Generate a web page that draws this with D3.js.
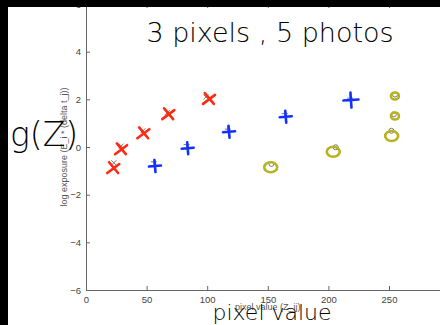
<!DOCTYPE html>
<html>
<head>
<meta charset="utf-8">
<script src="https://cdn.jsdelivr.net/npm/d3@7"></script>
<style>
  body { margin: 0; background: #000; }
  svg { display: block; }
</style>
</head>
<body>
<div id="chart"></div>
<script>

// axis ticks (300 falls outside the screenshot)
var xTicks = [0, 50, 100, 150, 200, 250];
var yTicks = [-6, -4, -2, 0, 2, 4, 6];

// original samples Z (pixel value) vs log exposure, one array per pixel
var z1 = [23, 29, 47, 67, 99],     g1 = [-0.66, 0.04, 0.68, 1.44, 2.10];
var z2 = [56, 83, 117, 164, 218],  g2 = [-0.62, 0.10, 0.75, 1.40, 2.05];
var z3 = [153, 206, 252, 254, 255], g3 = [-0.71, -0.01, 0.68, 1.37, 2.20];

// hand drawn marks over the samples
var hz1 = [22.5, 28.9, 47.3, 67.9, 101.5], hg1 = [-0.89, -0.10, 0.57, 1.37, 2.01];
var hz2 = [56.9, 83.9, 118, 164.8, 218.6], hg2 = [-0.80, -0.05, 0.64, 1.27, 1.97];
var hz3 = [152.4, 204, 252.2, 254.9, 254.9], hg3 = [-0.85, -0.20, 0.46, 1.30, 2.14];

var W = 440, H = 325;

var svg = d3.select("#chart").append("svg")
    .attr("width", W)
    .attr("height", H);

// white figure area
svg.append("rect")
  .attr("x", 0).attr("y", 0).attr("width", W).attr("height", H)
  .attr("fill", "#fff");

var x = d3.scaleLinear().domain([0, 300]).range([86, 449.6]);
var y = d3.scaleLinear().domain([-6, 6]).range([290, 4]);

var axisCol = "#666";

// axes (matlab style, ticks pointing in)
var gx = svg.append("g")
  .attr("transform", "translate(0," + y(-6) + ")")
  .call(d3.axisBottom(x).tickValues(xTicks).tickSizeInner(-4).tickSizeOuter(0).tickPadding(6));
var gxTop = svg.append("g")
  .attr("transform", "translate(0," + y(6) + ")")
  .call(d3.axisTop(x).tickValues(xTicks).tickSizeInner(-4).tickSizeOuter(0).tickFormat(""));
var gy = svg.append("g")
  .attr("transform", "translate(" + x(0) + ",0)")
  .call(d3.axisLeft(y).tickValues(yTicks).tickSizeInner(-4).tickSizeOuter(0).tickPadding(5)
    .tickFormat(function(d) { return d < 0 ? "\u2212" + (-d) : d; }));

[gx, gxTop, gy].forEach(function(g) {
  g.select(".domain").attr("stroke", axisCol);
  g.selectAll(".tick line").attr("stroke", axisCol);
  g.selectAll(".tick text")
    .attr("fill", "#444")
    .style("font-family", "Liberation Sans, Arial, sans-serif")
    .style("font-size", "9.5px");
});

// axis labels
svg.append("text")
  .attr("transform", "translate(67," + y(0) + ") rotate(-90)")
  .attr("text-anchor", "middle")
  .attr("fill", "#555")
  .style("font-family", "Liberation Sans, Arial, sans-serif")
  .style("font-size", "9px")
  .text("log exposure (E_i * (delta t_j))");

svg.append("text")
  .attr("x", x(150)).attr("y", 310)
  .attr("text-anchor", "middle")
  .attr("fill", "#555")
  .style("font-family", "Liberation Sans, Arial, sans-serif")
  .style("font-size", "9px")
  .text("pixel value (Z_ij)");

// gray sample markers
var gray = "#777";
function pairs(a, b) { return a.map(function(v, i) { return [v, b[i]]; }); }

svg.append("g").selectAll("path").data(pairs(z1, g1)).join("path")
  .attr("d", function(d) {
    var cx = x(d[0]), cy = y(d[1]), s = 2.5;
    return "M" + (cx - s) + "," + (cy - s) + "L" + (cx + s) + "," + (cy + s) +
           "M" + (cx - s) + "," + (cy + s) + "L" + (cx + s) + "," + (cy - s);
  })
  .attr("stroke", gray).attr("stroke-width", 1).attr("fill", "none");

svg.append("g").selectAll("path").data(pairs(z2, g2)).join("path")
  .attr("d", function(d) {
    var cx = x(d[0]), cy = y(d[1]), s = 3;
    return "M" + (cx - s) + "," + cy + "L" + (cx + s) + "," + cy +
           "M" + cx + "," + (cy - s) + "L" + cx + "," + (cy + s);
  })
  .attr("stroke", gray).attr("stroke-width", 1).attr("fill", "none");

svg.append("g").selectAll("circle").data(pairs(z3, g3)).join("circle")
  .attr("cx", function(d) { return x(d[0]); })
  .attr("cy", function(d) { return y(d[1]); })
  .attr("r", 2.5)
  .attr("stroke", gray).attr("stroke-width", 1).attr("fill", "none");

// hand drawn marks
var red = "#ff2a12", blue = "#1230ff", olive = "#b8b21e";

svg.append("g").selectAll("path").data(pairs(hz1, hg1)).join("path")
  .attr("d", function(d) {
    var cx = x(d[0]), cy = y(d[1]), s = 6;
    return "M" + (cx - s) + "," + (cy + s * 0.8) + "L" + (cx + s) + "," + (cy - s * 0.7) +
           "M" + (cx - s * 0.7) + "," + (cy - s) + "L" + (cx + s * 0.8) + "," + (cy + s * 0.8);
  })
  .attr("stroke", red).attr("stroke-width", 2.6).attr("stroke-linecap", "round").attr("fill", "none");

svg.append("g").selectAll("path").data(pairs(hz2, hg2)).join("path")
  .attr("d", function(d, i) {
    var cx = x(d[0]), cy = y(d[1]), s = i == 4 ? 7.5 : 6;
    return "M" + (cx - s) + "," + (cy + 0.5) + "L" + (cx + s) + "," + (cy - 0.5) +
           "M" + (cx - 0.5) + "," + (cy - s) + "L" + (cx + 0.5) + "," + (cy + s);
  })
  .attr("stroke", blue).attr("stroke-width", 2.6).attr("stroke-linecap", "round").attr("fill", "none");

svg.append("g").selectAll("ellipse").data(pairs(hz3, hg3)).join("ellipse")
  .attr("cx", function(d) { return x(d[0]); })
  .attr("cy", function(d) { return y(d[1]); })
  .attr("rx", function(d, i) { return i >= 3 ? 4 : 6.5; })
  .attr("ry", function(d, i) { return i >= 3 ? 3.5 : 5; })
  .attr("stroke", olive).attr("stroke-width", 2.6).attr("fill", "none");

// handwritten annotations
var hand = "DejaVu Sans, sans-serif";
svg.append("text")
  .attr("x", 270).attr("y", 42)
  .attr("text-anchor", "middle")
  .style("font-family", hand).style("font-size", "27px").style("font-weight", 300)
  .attr("fill", "#000")
  .text("3 pixels , 5 photos");

svg.append("text")
  .attr("x", 10).attr("y", 146)
  .style("font-family", hand).style("font-size", "33px").style("font-weight", 300)
  .attr("fill", "#000")
  .text("g(Z)");

svg.append("text")
  .attr("x", 272).attr("y", 320)
  .attr("text-anchor", "middle")
  .style("font-family", hand).style("font-size", "22px").style("font-weight", 300)
  .attr("fill", "#000")
  .text("pixel value");

// black frame edges of the screenshot
svg.append("rect").attr("x", 0).attr("y", 0).attr("width", W).attr("height", 7).attr("fill", "#000");
svg.append("rect").attr("x", 0).attr("y", 0).attr("width", 8).attr("height", H).attr("fill", "#000");

</script>
</body>
</html>
